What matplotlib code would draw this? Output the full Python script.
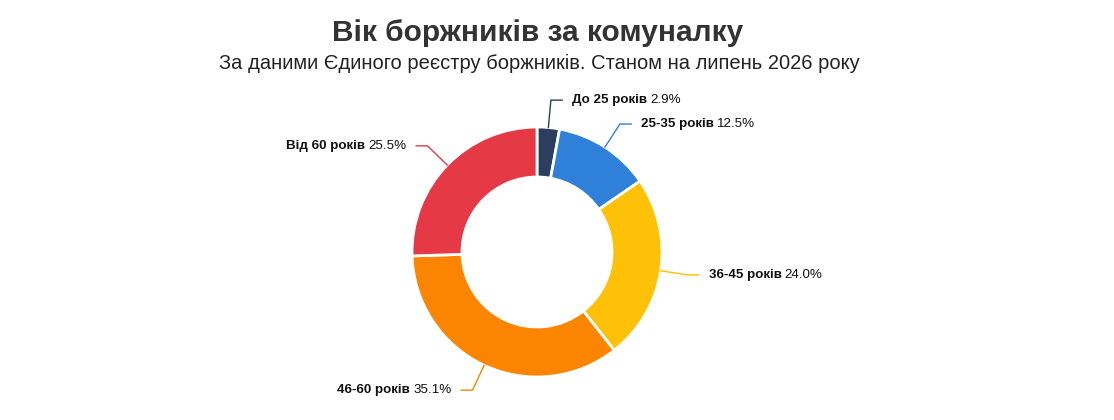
import matplotlib.pyplot as plt
import numpy as np

plt.rcParams['font.family'] = ['Liberation Sans', 'DejaVu Sans']

title = 'Вік боржників за комуналку'
subtitle = 'За даними Єдиного реєстру боржників. Станом на липень 2026 року'

categories = ['До 25 років', '25-35 років', '36-45 років', '46-60 років', 'Від 60 років']
shares = [2.9, 12.5, 24.0, 35.1, 25.5]
colors = ['#2c3e5e', '#2f80d8', '#ffc107', '#fb8500', '#e63946']

fig = plt.figure(figsize=(11.14, 4.2), dpi=100)
fig.text(0.483, 0.922, title, ha='center', va='center', fontsize=21.5,
         fontweight='bold', color='#333333')
fig.text(0.484, 0.85, subtitle, ha='center', va='center', fontsize=14.5,
         color='#222222')

# axes 300x300 px centred on the donut, 1 unit = 125 px
cx, cy = 537, 252
ax = fig.add_axes([(cx - 150) / 1114, (420 - cy - 150) / 420, 300 / 1114, 300 / 420])

wedges, _ = ax.pie(shares, colors=colors, startangle=90, counterclock=False,
                   radius=1.0, wedgeprops=dict(width=0.4, edgecolor='white', linewidth=2))
ax.set_xlim(-1.2, 1.2)
ax.set_ylim(-1.2, 1.2)
ax.set_aspect('equal')
ax.axis('off')

for w, name, val, col in zip(wedges, categories, shares, colors):
    ang = np.deg2rad((w.theta1 + w.theta2) / 2)
    x0, y0 = np.cos(ang), np.sin(ang)
    xe, ye = 1.22 * x0, 1.22 * y0
    side = 1 if x0 >= 0 else -1
    xh = xe + side * 0.09
    ax.plot([x0, xe, xh], [y0, ye, ye], color=col, lw=1, clip_on=False)
    xt = xh + side * 0.08
    pct = f'{val:.1f}%'
    if side > 0:
        t = ax.text(xt, ye, name, ha='left', va='center', fontsize=9.6,
                    fontweight='bold', color='#111111')
        ax.annotate(pct, xy=(1, 0), xycoords=t, xytext=(2, 0),
                    textcoords='offset points', ha='left', va='bottom',
                    fontsize=9.6, color='#111111')
    else:
        t = ax.text(xt, ye, pct, ha='right', va='center', fontsize=9.6,
                    color='#111111')
        ax.annotate(name, xy=(0, 0), xycoords=t, xytext=(-2, 0),
                    textcoords='offset points', ha='right', va='bottom',
                    fontsize=9.6, fontweight='bold', color='#111111')

plt.savefig('out.png', dpi=100)
